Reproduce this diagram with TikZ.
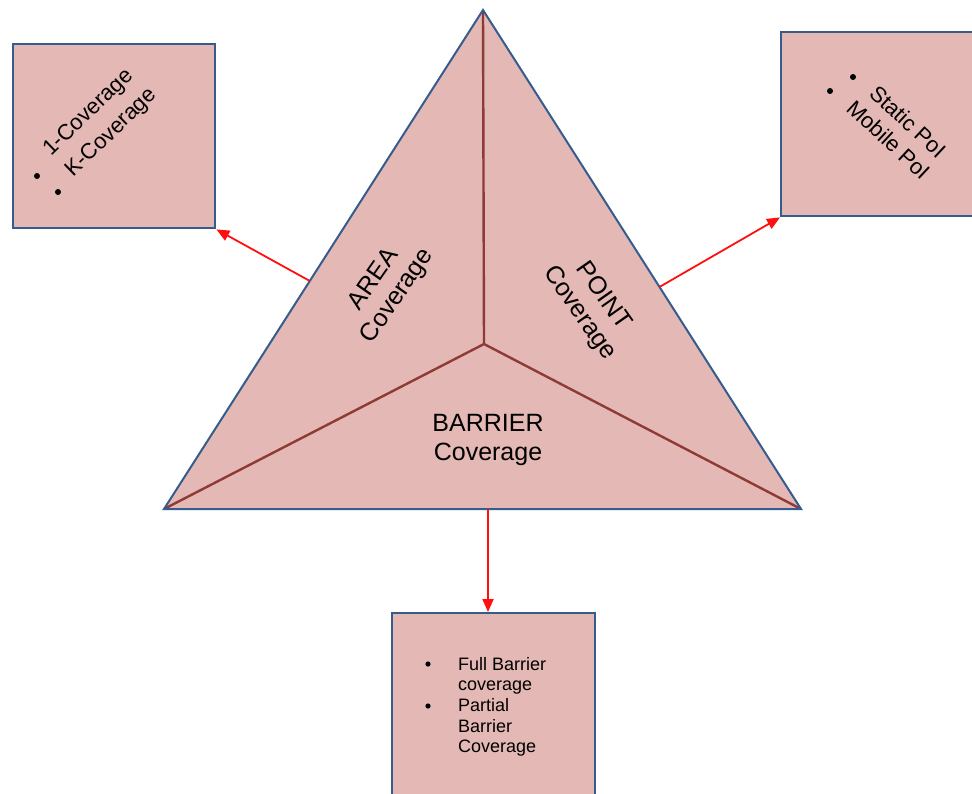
\documentclass[tikz,border=0pt]{standalone}
\usepackage{fontspec}
\setmainfont{Liberation Sans}
\usetikzlibrary{arrows.meta,calc}
\definecolor{pinkfill}{HTML}{E4B8B4}
\definecolor{edgeblue}{HTML}{355C8C}
\definecolor{spoke}{HTML}{8E3B36}
\definecolor{arrowred}{HTML}{FF1010}
\tikzset{
  infobox/.style={draw=edgeblue, line width=2.4pt, fill=pinkfill, anchor=north west, inner sep=0pt},
  spokeline/.style={draw=spoke, line width=2.4pt},
  linkarrow/.style={draw=arrowred, line width=1.8pt, -{Triangle[length=13pt,width=11pt]}},
  sidelabel/.style={font=\fontsize{25}{29}\selectfont, align=center, inner sep=0pt},
  boxline/.style={font=\fontsize{22}{26}\selectfont, anchor=base west, inner sep=0pt},
  smallline/.style={font=\fontsize{18}{20}\selectfont, anchor=base west, inner sep=0pt},
  dot/.style={fill=black, draw=none}
}
\begin{document}
\begin{tikzpicture}[x=1pt,y=-1pt]
  \useasboundingbox (0,0) rectangle (972,793);
  \clip (0,0) rectangle (972,793);

  % corners of the triangle and its centre
  \coordinate (top) at (483,10);
  \coordinate (bl) at (164,509);
  \coordinate (br) at (801,509);
  \coordinate (mid) at (484,344);

  \fill[pinkfill] (top) -- (br) -- (bl) -- cycle;
  \draw[spokeline] (top) -- (mid);
  \draw[spokeline] (bl) -- (mid) -- (br);
  \draw[edgeblue, line width=2pt, line join=miter] (top) -- (br) -- (bl) -- cycle;

  % labels of the three sectors
  \node[sidelabel, rotate=55] (area) at (386,288) {AREA\\Coverage};
  \node[sidelabel, rotate=-55] (point) at (591,305) {POINT\\Coverage};
  \node[sidelabel] (barrier) at (488,440) {BARRIER\\Coverage};

  % detail boxes
  \node[infobox, minimum width=202pt, minimum height=184pt] (lbox) at (12,43) {};
  \node[infobox, minimum width=195pt, minimum height=184pt] (rbox) at (780,31) {};
  \node[infobox, minimum width=203pt, minimum height=200pt] (bbox) at (391,612) {};

  % left box list
  \fill[dot] (37,176) circle (3pt);
  \fill[dot] (58,192) circle (3pt);
  \node[boxline, rotate=44] (k1) at (51,157) {1-Coverage};
  \node[boxline, rotate=44] (k2) at (73,178) {K-Coverage};

  % right box list
  \fill[dot] (853,77) circle (3pt);
  \fill[dot] (830,91) circle (3pt);
  \node[boxline, rotate=-43] (p1) at (868,95) {Static PoI};
  \node[boxline, rotate=-43] (p2) at (845,110) {Mobile PoI};

  % bottom box list
  \fill[dot] (428,664) circle (2.6pt);
  \fill[dot] (428,706) circle (2.6pt);
  \node[smallline] (b1) at (458,670) {Full Barrier};
  \node[smallline] (b2) at (458,690.5) {coverage};
  \node[smallline] (b3) at (458,711.5) {Partial};
  \node[smallline] (b4) at (458,732) {Barrier};
  \node[smallline] (b5) at (458,752.5) {Coverage};

  % connectors from the triangle to the boxes
  \coordinate (lout) at ($(bl)!0.457!(top)$);
  \coordinate (rout) at ($(br)!0.445!(top)$);
  \coordinate (bout) at (488,509);
  \draw[linkarrow] (lout) -- (lbox.south east);
  \draw[linkarrow] (rout) -- (rbox.south west);
  \draw[linkarrow] (bout) -- (bbox.north west -| bout);
\end{tikzpicture}
\end{document}
